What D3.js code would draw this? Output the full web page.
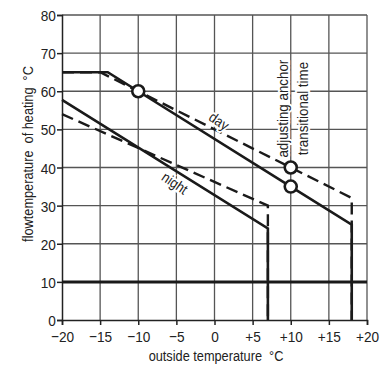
<!DOCTYPE html>
<html>
<head>
<meta charset="utf-8">
<script src="https://cdn.jsdelivr.net/npm/d3@7"></script>
<style>
  body { margin: 0; background: #fff; }
  text { font-family: "Liberation Sans", Arial, sans-serif; fill: #222; white-space: pre; }
</style>
</head>
<body>
<svg id="chart" width="388" height="365"></svg>
<script>
// tick labels
var xTicks = [-20, -15, -10, -5, 0, 5, 10, 15, 20];
var xTickLabels = ["\u221220", "\u221215", "\u221210", "\u22125", "0", "+5", "+10", "+15", "+20"];
var yTicks = [0, 10, 20, 30, 40, 50, 60, 70, 80];

// heating curves (outside temp, flow temp)
var daySolid = [[-20, 65], [-14, 65], [-10, 60], [10, 35], [18, 25], [18, 0]];
var dayDashed = [[-20, 65], [-15, 65], [-10, 60], [10, 40], [18, 32], [18, 0]];
var nightSolid = [[-20, 57.75], [7, 24], [7, 0]];
var nightDashed = [[-20, 54], [7, 30], [7, 0]];
var minFlow = [[-20, 10], [20, 10]];
var anchors = [[-10, 60], [10, 40], [10, 35]];

var svg = d3.select("#chart");

var x = d3.scaleLinear().domain([-20, 20]).range([62, 367]);
var y = d3.scaleLinear().domain([0, 80]).range([320, 15]);

var line = d3.line().x(d => x(d[0])).y(d => y(d[1]));

// condensed look: squeeze Liberation Sans horizontally
var squeeze = "scale(0.88,1)";

// grid
var grid = svg.append("g").attr("class", "grid");
grid.selectAll(".v")
    .data(xTicks.slice(1))
    .enter().append("line")
      .attr("x1", d => x(d)).attr("x2", d => x(d))
      .attr("y1", y(0)).attr("y2", y(80))
      .attr("stroke", "#555").attr("stroke-width", 1.3);
grid.selectAll(".h")
    .data(yTicks.slice(1))
    .enter().append("line")
      .attr("x1", x(-20)).attr("x2", x(20))
      .attr("y1", d => y(d)).attr("y2", d => y(d))
      .attr("stroke", "#555").attr("stroke-width", 1.3);

// axes
svg.append("g")
    .attr("transform", "translate(0," + y(0) + ")")
    .call(d3.axisBottom(x).tickValues(xTicks).tickSize(5).tickPadding(6)
      .tickFormat((d, i) => xTickLabels[i]))
    .call(g => g.selectAll("text").attr("font-size", 15.5).attr("fill", "#222")
      .attr("transform", squeeze))
    .call(g => g.selectAll("line, path").attr("stroke", "#222").attr("stroke-width", 1.5));

svg.append("g")
    .attr("transform", "translate(" + x(-20) + ",0)")
    .call(d3.axisLeft(y).tickValues(yTicks).tickSize(5).tickPadding(2))
    .call(g => g.selectAll("text").attr("font-size", 15.5).attr("fill", "#222")
      .attr("dy", "0.36em").attr("transform", squeeze))
    .call(g => g.selectAll("line, path").attr("stroke", "#222").attr("stroke-width", 1.5));

// axis titles
svg.append("text")
    .attr("transform", "translate(216,361) " + squeeze)
    .attr("text-anchor", "middle")
    .attr("font-size", 14.5)
    .text("outside temperature  \u00b0C");

svg.append("text")
    .attr("transform", "translate(33,154) rotate(-90) " + squeeze)
    .attr("text-anchor", "middle")
    .attr("font-size", 14.5)
    .text("flowtemperature  of heating  \u00b0C");

// vertical text with white background
function vlabel(txt, xv, yv) {
  svg.append("text")
      .attr("transform", "translate(" + x(xv) + "," + y(yv) + ") rotate(-90) scale(0.92,1)")
      .attr("font-size", 14.5)
      .attr("stroke", "#fff").attr("stroke-width", 4)
      .attr("paint-order", "stroke")
      .text(txt);
}
vlabel("adjusting anchor", 9.7, 42.6);
vlabel("transitional time", 12.25, 43.2);

// curves
var curves = svg.append("g").attr("fill", "none").attr("stroke", "#1a1a1a");
curves.append("path").datum(minFlow).attr("d", line).attr("stroke-width", 3);
curves.append("path").datum(dayDashed).attr("d", line)
    .attr("stroke-width", 2.4).attr("stroke-dasharray", "12,6");
curves.append("path").datum(nightDashed).attr("d", line)
    .attr("stroke-width", 2.4).attr("stroke-dasharray", "12,6");
curves.append("path").datum(daySolid).attr("d", line).attr("stroke-width", 2.6);
curves.append("path").datum(nightSolid).attr("d", line).attr("stroke-width", 2.6);

// curve labels
function slabel(txt, xv, yv) {
  svg.append("text")
      .attr("transform", "translate(" + x(xv) + "," + y(yv) + ") rotate(34) " + squeeze)
      .attr("text-anchor", "middle")
      .attr("dy", "0.35em")
      .attr("font-size", 14.5)
      .attr("stroke", "#fff").attr("stroke-width", 4)
      .attr("paint-order", "stroke")
      .text(txt);
}
slabel("day", 0.6, 52.2);
slabel("night", -5.2, 35.9);

// anchor circles
svg.selectAll(".anchor")
    .data(anchors)
    .enter().append("circle")
      .attr("cx", d => x(d[0])).attr("cy", d => y(d[1]))
      .attr("r", 6)
      .attr("fill", "#fff").attr("stroke", "#1a1a1a").attr("stroke-width", 2.6);
</script>
</body>
</html>
